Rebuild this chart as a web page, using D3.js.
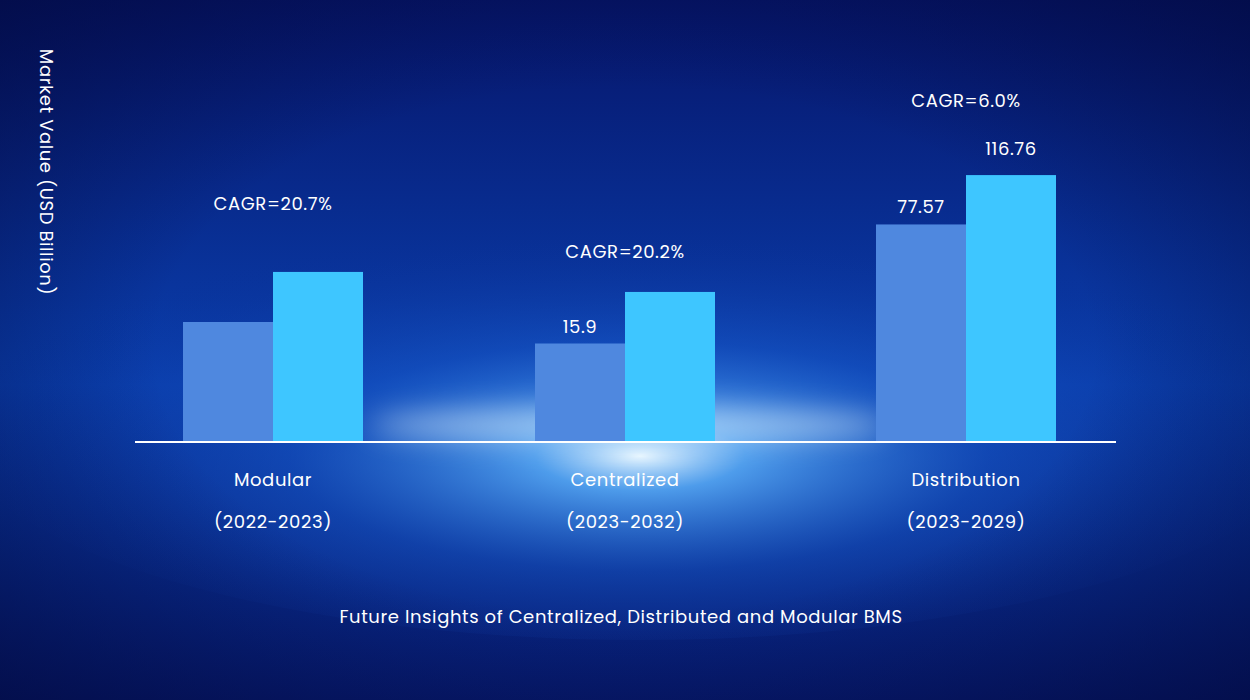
<!DOCTYPE html>
<html><head><meta charset="utf-8">
<script src="https://cdn.jsdelivr.net/npm/d3@7"></script>
<style>body{margin:0;background:#041466}svg{display:block}</style>
</head><body>
<svg id="c" width="1250" height="700"></svg>
<script>
const categories = ["Modular","Centralized","Distribution"];
const periods = ["(2022-2023)","(2023-2032)","(2023-2029)"];
const startValues = [23.6, 15.9, 77.57];
const endValues = [47.4, 36.9, 116.76];
const startLabels = ["", "15.9", "77.57"];
const endLabels = ["", "", "116.76"];
const cagr = ["CAGR=20.7%","CAGR=20.2%","CAGR=6.0%"];

const svg = d3.select("#c");
const defs = svg.append("defs");
const bg = defs.append("linearGradient").attr("id","bg").attr("x1",0).attr("y1",0).attr("x2",0).attr("y2",1);
bg.append("stop").attr("offset","0%").attr("stop-color","#06156a");
bg.append("stop").attr("offset","55%").attr("stop-color","#0a3fae");
bg.append("stop").attr("offset","100%").attr("stop-color","#071a6e");
const glow = defs.append("radialGradient").attr("id","glow").attr("cx","50%").attr("cy","60%").attr("r","50%");
glow.append("stop").attr("offset","0%").attr("stop-color","#e8f6ff").attr("stop-opacity",1);
glow.append("stop").attr("offset","15%").attr("stop-color","#5fb6ff").attr("stop-opacity",0.8);
glow.append("stop").attr("offset","50%").attr("stop-color","#1c5fd0").attr("stop-opacity",0.4);
glow.append("stop").attr("offset","100%").attr("stop-color","#0a2a90").attr("stop-opacity",0);
const vig = defs.append("radialGradient").attr("id","vig").attr("cx","50%").attr("cy","50%").attr("r","75%");
vig.append("stop").attr("offset","50%").attr("stop-color","#020a40").attr("stop-opacity",0);
vig.append("stop").attr("offset","100%").attr("stop-color","#020a40").attr("stop-opacity",0.8);

svg.append("rect").attr("width",1250).attr("height",700).attr("fill","url(#bg)");
svg.append("ellipse").attr("cx",640).attr("cy",410).attr("rx",700).attr("ry",230).attr("fill","url(#glow)");
svg.append("ellipse").attr("cx",630).attr("cy",425).attr("rx",260).attr("ry",18).attr("fill","#eaf8ff").attr("opacity",0.5).style("filter","blur(14px)");
svg.append("rect").attr("width",1250).attr("height",700).attr("fill","url(#vig)");

const baseY = 442;
const centers = {"Modular":273,"Centralized":625,"Distribution":966};
const y = d3.scaleSqrt().domain([0,147.5]).range([baseY, baseY-300]);
const bw = 90;
const font = "Poppins, 'Open Sans', sans-serif";
const t = (xx,yy,s)=>svg.append("text").attr("x",xx).attr("y",yy).attr("text-anchor","middle").attr("fill","#fff").attr("font-family",font).attr("font-size",18).attr("letter-spacing",0.6).text(s);

categories.forEach((c,i)=>{
  const cx = centers[c];
  svg.append("rect").attr("x",cx-bw).attr("width",bw).attr("y",y(startValues[i])).attr("height",baseY-y(startValues[i])).attr("fill","#4f88df");
  svg.append("rect").attr("x",cx).attr("width",bw).attr("y",y(endValues[i])).attr("height",baseY-y(endValues[i])).attr("fill","#3ec6ff");
  if(startLabels[i]) t(cx-bw/2, y(startValues[i])-11, startLabels[i]);
  if(endLabels[i]) t(cx+bw/2, y(endValues[i])-20, endLabels[i]);
  const top = Math.min(y(startValues[i]), y(endValues[i]));
  const extra = endLabels[i] ? 68 : (i===1 ? 34 : 62);
  t(cx, top-extra, cagr[i]);
  t(cx, 486, c);
  t(cx, 528, periods[i]);
});
svg.append("line").attr("x1",135).attr("x2",1116).attr("y1",baseY).attr("y2",baseY).attr("stroke","#fff").attr("stroke-width",2);
t(621,623,"Future Insights of Centralized, Distributed and Modular BMS");
svg.append("text").attr("transform","translate(40,172) rotate(90)").attr("text-anchor","middle").attr("fill","#fff").attr("font-family",font).attr("font-size",18).attr("letter-spacing",0.6).text("Market Value (USD Billion)");
</script></body></html>
